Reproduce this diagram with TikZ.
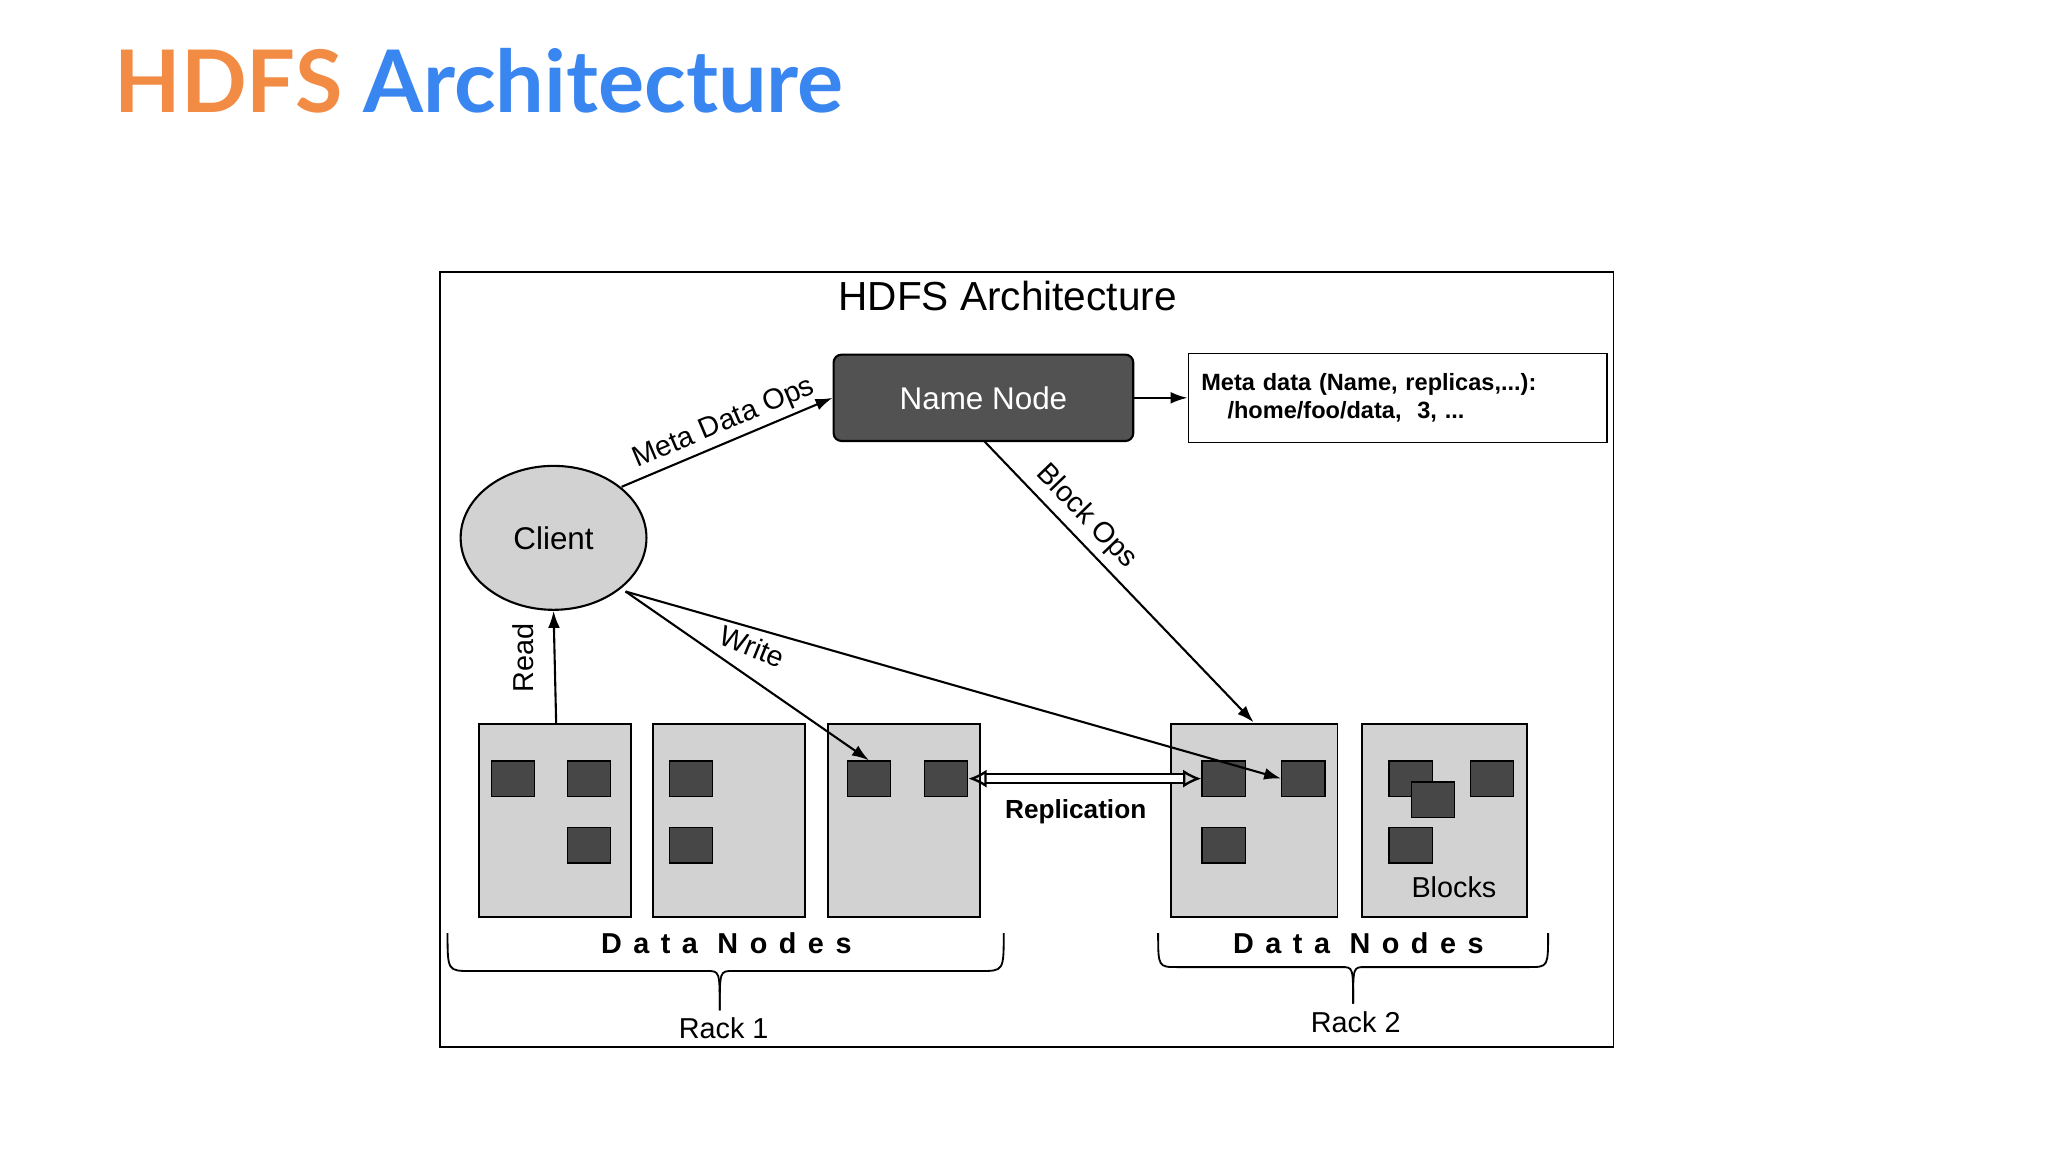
\documentclass[tikz,border=0pt]{standalone}
\usepackage{fontspec}
\setmainfont{Liberation Sans}
\newfontfamily\titlefont{Lato}
\usetikzlibrary{arrows.meta,shapes.geometric}
\begin{document}
\begin{tikzpicture}[x=1pt,y=-1pt,
  arr/.style={-{Latex[length=13pt,width=9pt]},line width=1.6pt},
  dn/.style={draw,line width=1.4pt,fill=gray!35},
  blk/.style={draw,line width=1pt,fill=black!72,minimum width=33pt,minimum height=27pt,inner sep=0pt},
  lbl/.style={font=\fontsize{22}{24}\selectfont},
  dnl/.style={font=\fontsize{22}{24}\selectfont\bfseries\addfontfeatures{LetterSpace=40}}]
\useasboundingbox (0,0) rectangle (1565,880);
\node[anchor=west,font=\titlefont\bfseries\fontsize{66}{72}\selectfont] (title) at (84,62)
  {\textcolor[HTML]{F28C45}{HDFS} \textcolor[HTML]{3A86F0}{Architecture}};
\draw[line width=1.4pt] (336,208) rectangle (1233,800);
\node[font=\fontsize{31}{34}\selectfont] (dtitle) at (770,226) {HDFS Architecture};
\node[draw,line width=1.6pt,rounded corners=6pt,fill=black!68,text=white,minimum width=229pt,minimum height=66pt,font=\fontsize{24}{26}\selectfont] (nn) at (751.5,304) {Name Node};
\node[draw,line width=1pt,minimum width=320pt,minimum height=68pt,text width=300pt,font=\fontsize{18}{22}\selectfont\bfseries,align=left] (meta) at (1068,304) {Meta data (Name, replicas,...):\\\hspace{20pt}/home/foo/data,\ \ 3, ...};
\draw[arr] (nn) -- (meta);
\node[draw,ellipse,line width=1.6pt,fill=gray!35,minimum width=142pt,minimum height=110pt,font=\fontsize{24}{26}\selectfont] (client) at (423,411) {Client};
% data nodes
\node[dn,minimum width=116pt,minimum height=148pt] (d1) at (424,627) {};
\node[dn,minimum width=116pt,minimum height=148pt] (d2) at (557,627) {};
\node[dn,minimum width=116pt,minimum height=148pt] (d3) at (691,627) {};
\node[dn,minimum width=127pt,minimum height=148pt] (d4) at (958.5,627) {};
\node[dn,minimum width=126pt,minimum height=148pt] (d5) at (1104,627) {};
\node[blk] (b1) at (392,595) {};
\node[blk] (b2) at (450,595) {};
\node[blk] (b3) at (450,646) {};
\node[blk] (b4) at (528,595) {};
\node[blk] (b5) at (528,646) {};
\node[blk] (b6) at (664,595) {};
\node[blk] (b7) at (723,595) {};
\node[blk] (b8) at (935,595) {};
\node[blk] (b9) at (996,595) {};
\node[blk] (b10) at (935,646) {};
\node[blk] (b11) at (1078,595) {};
\node[blk] (b12) at (1095,611) {};
\node[blk] (b13) at (1140,595) {};
\node[blk] (b14) at (1078,646) {};
\node[lbl] (blocks) at (1111,678) {Blocks};
% connectors
\coordinate (cmo) at (475,372);
\draw[arr] (cmo) -- node[lbl,sloped,above,pos=0.52] {Meta Data Ops} (nn.west);
\coordinate (nnb) at (752,337);
\coordinate (d4t) at (958,552);
\draw[arr] (nnb) -- (d4t);
\node[lbl,rotate=-46] (bops) at (830,395) {Block Ops};
\coordinate (d1t) at (425,553);
\draw[arr] (d1t) -- (client.south);
\node[lbl,rotate=90] (read) at (400,503) {Read};
\coordinate (cw) at (478,452);
\draw[arr] (cw) -- (b6.north);
\draw[arr] (cw) -- (b9.west);
\node[lbl,rotate=-22] (write) at (575,494) {Write};
\draw[{Latex[length=14pt,width=14pt,open]}-{Latex[length=14pt,width=14pt,open]},double,double distance=5pt,line width=1.8pt] (b7.east) -- (b8.west);
\node[font=\fontsize{20}{22}\selectfont\bfseries] (repl) at (822,620) {Replication};
% braces
\draw[line width=1.4pt] (342,713) .. controls (342,742) .. (360,742) -- (540,742) .. controls (550,742) .. (550,772);
\draw[line width=1.4pt] (767,713) .. controls (767,742) .. (749,742) -- (560,742) .. controls (550,742) .. (550,772);
\draw[line width=1.4pt] (885,713) .. controls (885,739) .. (900,739) -- (1025,739) .. controls (1034,739) .. (1034,767);
\draw[line width=1.4pt] (1183,713) .. controls (1183,739) .. (1168,739) -- (1043,739) .. controls (1034,739) .. (1034,767);
\node[dnl] (dnl1) at (555,721) {Data Nodes};
\node[dnl] (dnl2) at (1038,721) {Data Nodes};
\node[lbl] (rack1) at (553,786) {Rack 1};
\node[lbl] (rack2) at (1036,781) {Rack 2};
\end{tikzpicture}
\end{document}
